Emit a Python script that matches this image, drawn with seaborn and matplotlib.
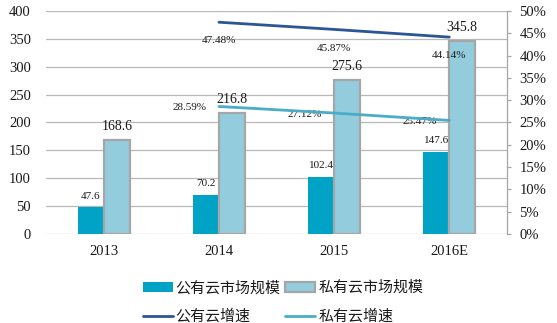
import numpy as np
import pandas as pd
import seaborn as sns
import matplotlib
matplotlib.use("Agg")
import matplotlib.pyplot as plt
from matplotlib.patches import Patch
from matplotlib.lines import Line2D
from matplotlib.ticker import FuncFormatter, MultipleLocator
from matplotlib.font_manager import FontProperties

# ---- data ----
years = ['2013', '2014', '2015', '2016E']
public_size = [47.6, 70.2, 102.4, 147.6]
private_size = [168.6, 216.8, 275.6, 345.8]
growth_years = ['2014', '2015', '2016E']
public_growth = [47.48, 45.87, 44.14]
private_growth = [28.59, 27.12, 25.47]
series_names = ['公有云市场规模', '私有云市场规模', '公有云增速', '私有云增速']

# ---- style ----
c_pub = '#00A2C6'
c_priv = '#93CDDD'
c_edge = '#A6A6A6'
c_pub_line = '#2B5597'
c_priv_line = '#4BACC6'
c_grid = '#B8B8B8'
c_text = '#1a1a1a'

sns.set_theme(style='white')
plt.rcParams['font.family'] = ['Liberation Serif', 'Noto Sans CJK SC', 'DejaVu Sans']

fig = plt.figure(figsize=(5.57, 3.23), dpi=100)
ax = fig.add_axes([0.083, 0.2755, 0.827, 0.6905])

df = pd.DataFrame({
    'year': years * 2,
    'value': public_size + private_size,
    'series': [series_names[0]] * len(years) + [series_names[1]] * len(years),
})
sns.barplot(data=df, x='year', y='value', hue='series', order=years,
            hue_order=series_names[:2], palette=[c_pub, c_priv],
            width=0.45, saturation=1, gap=0, legend=False, ax=ax, zorder=3)

n = len(years)
for i, p in enumerate(ax.patches):
    if i >= n:
        p.set_edgecolor(c_edge)
        p.set_linewidth(1.6)
    else:
        p.set_edgecolor('none')

ax.bar_label(ax.containers[0], labels=[f'{v}' for v in public_size],
             padding=5, fontsize=8, color=c_text)
ax.bar_label(ax.containers[1], labels=[f'{v}' for v in private_size],
             padding=5, fontsize=10, color=c_text)

ax.set_ylim(0, 400)
ax.yaxis.set_major_locator(MultipleLocator(50))
ax.grid(axis='y', color=c_grid, linewidth=0.9)
ax.grid(axis='x', visible=False)
ax.set_axisbelow(True)
for s in ['left', 'top', 'right', 'bottom']:
    ax.spines[s].set_visible(False)
ax.tick_params(axis='y', length=0, pad=11, labelsize=10.5, colors=c_text)
ax.tick_params(axis='x', length=0, pad=8, labelsize=10.5, colors=c_text)
ax.set_xlabel('')
ax.set_ylabel('')

# ---- growth lines ----
ax2 = ax.twinx()
sns.lineplot(x=growth_years, y=np.array(public_growth) / 100, ax=ax2,
             color=c_pub_line, linewidth=2.0, zorder=5)
sns.lineplot(x=growth_years, y=np.array(private_growth) / 100, ax=ax2,
             color=c_priv_line, linewidth=2.0, zorder=5)

pos = [years.index(y) for y in growth_years]
for xp, v in zip(pos, public_growth):
    ax2.annotate(f'{v:.2f}%', (xp, v / 100), xytext=(0, -13.5),
                 textcoords='offset points', ha='center', va='center',
                 fontsize=8, color=c_text)
for xp, v in zip(pos, private_growth):
    ax2.annotate(f'{v:.2f}%', (xp, v / 100), xytext=(-21, -1),
                 textcoords='offset points', ha='center', va='center',
                 fontsize=8, color=c_text)

ax2.set_ylim(0, 0.5)
ax2.yaxis.set_major_locator(MultipleLocator(0.05))
ax2.yaxis.set_major_formatter(FuncFormatter(lambda v, _: f'{v * 100:.0f}%'))
ax2.grid(False)
for s in ['left', 'top', 'bottom']:
    ax2.spines[s].set_visible(False)
ax2.spines['right'].set_visible(True)
ax2.spines['right'].set_color(c_edge)
ax2.spines['right'].set_linewidth(0.9)
ax2.tick_params(axis='y', length=3, width=0.9, pad=6,
                labelsize=10.5, direction='out', right=True,
                colors=c_edge, labelcolor=c_text)
ax2.set_ylabel('')
ax.set_xlim(-0.5, len(years) - 0.5)

# ---- legend ----
handles = [
    Patch(facecolor=c_pub, edgecolor='none'),
    Line2D([0], [0], color=c_pub_line, linewidth=2.0),
    Patch(facecolor=c_priv, edgecolor=c_edge, linewidth=1.6),
    Line2D([0], [0], color=c_priv_line, linewidth=2.0),
]
labels = [series_names[0], series_names[2], series_names[1], series_names[3]]
fig.legend(handles, labels, ncol=2, loc='lower center',
           bbox_to_anchor=(0.508, -0.045), frameon=False,
           prop=FontProperties(family='Noto Sans CJK SC', size=10.8),
           handlelength=2.0, handleheight=0.65, columnspacing=0.3,
           handletextpad=0.2, labelspacing=0.95, labelcolor=c_text)

fig.savefig('out.png', dpi=100)
